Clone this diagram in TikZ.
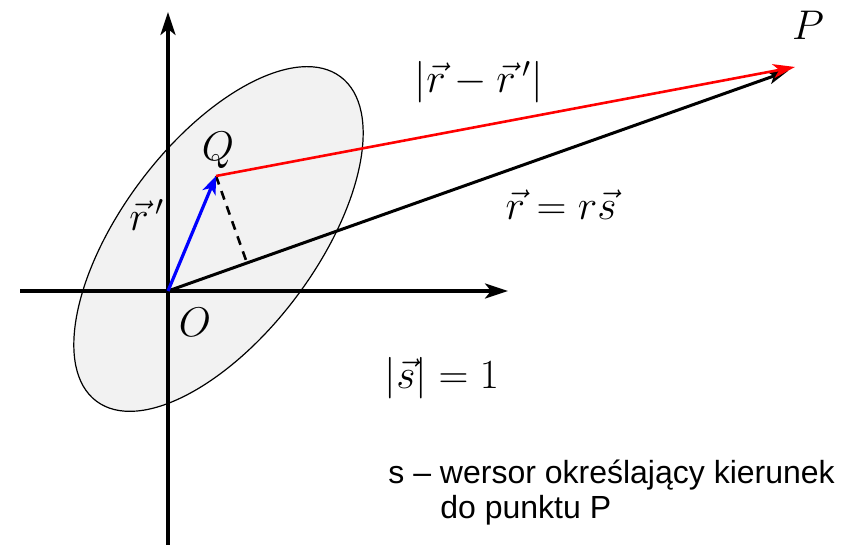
\documentclass[tikz,border=0pt]{standalone}
\usepackage{fontspec}
\newfontfamily\captionfont{Liberation Sans}
\usetikzlibrary{arrows.meta}
\begin{document}
\begin{tikzpicture}[x=0.5pt, y=0.5pt,
    axis/.style={line width=1.6pt, -{Stealth[length=11.5pt, width=7.5pt, inset=3pt]}},
    body/.style={draw=black, line width=0.6pt, fill=black!5},
    vecr/.style={line width=1.5pt, -{Stealth[length=10pt, width=6.5pt, inset=2.5pt]}},
    vecrp/.style={line width=1.6pt, blue, -{Stealth[length=9pt, width=7pt, inset=2.5pt]}},
    vecdiff/.style={line width=1.3pt, red, -{Stealth[length=11pt, width=7pt, inset=3pt]}},
    proj/.style={line width=1.3pt, dash pattern=on 4.5pt off 3.5pt},
    lbl/.style={font=\fontsize{20.74}{25}\selectfont},
    note/.style={font=\captionfont\fontsize{16}{19}\selectfont, anchor=west, inner sep=0pt}]

  \useasboundingbox (0,0) rectangle (843,545);

  % points
  \coordinate (O) at (168,254);
  \coordinate (Q) at (216,369);
  \coordinate (P) at (795,478);
  \coordinate (Pr) at (788,474);
  \coordinate (foot) at (247,282);

  % body (ellipse)
  \draw[body] (218.5,306) ellipse[x radius=203, y radius=97, rotate=53];

  % axes
  \coordinate (xmin) at (20,254);
  \coordinate (xmax) at (508,254);
  \coordinate (ymin) at (168,0);
  \coordinate (ymax) at (168,533);
  \draw[axis] (xmin) -- (xmax);
  \draw[axis] (ymin) -- (ymax);

  % vectors
  \draw[vecr] (O) -- (Pr);
  \draw[proj] (Q) -- (foot);
  \draw[vecrp] (O) -- (Q);
  \draw[vecdiff] (Q) -- (P);

  % labels
  \node[lbl] (Plab) at (808,520) {$P$};
  \node[lbl] (Qlab) at (218,395) {$Q$};
  \node[lbl] (rplab) at (147,330) {$\vec{r}\,'$};
  \node[lbl] (difflab) at (479,463) {$|\vec{r}-\vec{r}\,'|$};
  \node[lbl] (rlab) at (561,340) {$\vec{r}=r\vec{s}$};
  \node[lbl] (Olab) at (195,223) {$O$};
  \node[lbl] (normlab) at (442,167) {$|\vec{s}|=1$};

  % caption
  \node[note] (note1) at (388,70) {s – wersor określający kierunek};
  \node[note] (note2) at (440,35) {do punktu P};

\end{tikzpicture}
\end{document}
